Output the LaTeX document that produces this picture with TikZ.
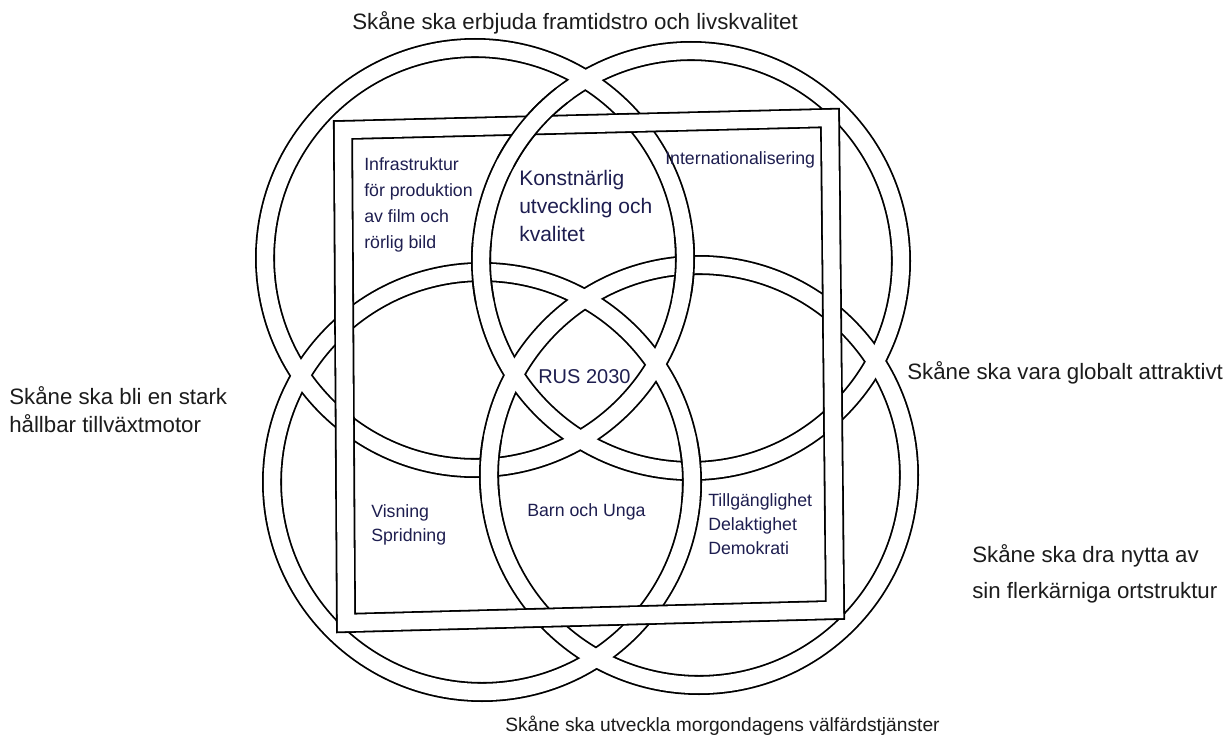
\documentclass[tikz,border=0pt]{standalone}
\usepackage{fontspec}
\setmainfont{Liberation Sans}
\usepackage{xcolor}
\usetikzlibrary{calc}

\definecolor{goalgray}{RGB}{28,28,28}
\definecolor{areablue}{RGB}{30,30,80}

\begin{document}
\begin{tikzpicture}[x = 0.75pt, y = -0.75pt,
bandout/.style = {line width = 15pt, black, line join = miter},
bandin/.style = {line width = 12.3pt, white, line join = miter},
goal/.style = {anchor = base west, inner sep = 0 pt, text = goalgray, align = left, font = \fontsize{16.7}{20.3}\selectfont},
area/.style = {anchor = base west, inner sep = 0 pt, text = areablue, align = left, font = \fontsize{13.3}{19.5}\selectfont}
]
\useasboundingbox (0,0) rectangle (1231,735);
\fill[white] (0,0) rectangle (1231,735);

\foreach \n/\x/\y in {TL/475/258, TR/691/261, BL/482/482, BR/699/475}{\coordinate (\n) at (\x,\y);}
\foreach \n in {TL,TR,BL,BR}{\draw[bandout] (\n) circle (210);}
\foreach \n in {TL,TR,BL,BR}{\draw[bandin] (\n) circle (210);}
% the upright bands pass over at the four inner corners
\foreach \n/\a in {TR/177, TL/2, BR/182, BL/-3}{
\draw[bandout] (\n) ++(\a-8:210) arc (\a-8:\a+8:210);
\draw[bandin] (\n) ++(\a-10:210) arc (\a-10:\a+10:210);}

\coordinate (F1) at (343,130);
\coordinate (F2) at (830,118);
\coordinate (F3) at (835,610);
\coordinate (F4) at (346,623);
\draw[bandout] (F1) -- (F2) -- (F3) -- (F4) -- cycle;
\draw[bandin] (F1) -- (F2) -- (F3) -- (F4) -- cycle;
\draw[bandout] (TR) ++(208:210) arc (208:232:210);
\draw[bandin] (TR) ++(206:210) arc (206:234:210);

\node[goal] (gTop) at (352,30) {Skåne ska erbjuda framtidstro och livskvalitet};
\node[goal, font = \fontsize{16.7}{20.5}\selectfont] (gLeft) at (9,432) {Skåne ska bli en stark\\hållbar tillväxtmotor};
\node[goal] (gRight) at (907,379) {Skåne ska vara globalt attraktivt};
\node[goal, font = \fontsize{16.7}{26.3}\selectfont] (gLow) at (972,598) {Skåne ska dra nytta av\\sin flerkärniga ortstruktur};
\node[goal, font = \fontsize{14.4}{17}\selectfont] (gBottom) at (505,731) {Skåne ska utveckla morgondagens välfärdstjänster};

\node[area] (aInfra) at (364,248) {Infrastruktur\\för produktion\\av film och\\rörlig bild};
\node[area, font = \fontsize{15.75}{21}\selectfont] (aKonst) at (519,241) {Konstnärlig\\utveckling och\\kvalitet};
\node[area] (aInter) at (665,164) {Internationalisering};
\node[area, font = \fontsize{15}{18}\selectfont] (aRus) at (538,383) {RUS 2030};
\node[area, font = \fontsize{13.3}{17.3}\selectfont] (aVis) at (371,541) {Visning\\Spridning};
\node[area] (aBarn) at (527,516) {Barn och Unga};
\node[area, font = \fontsize{13.3}{18}\selectfont] (aTill) at (708,554) {Tillgänglighet\\Delaktighet\\Demokrati};
\end{tikzpicture}
\end{document}
